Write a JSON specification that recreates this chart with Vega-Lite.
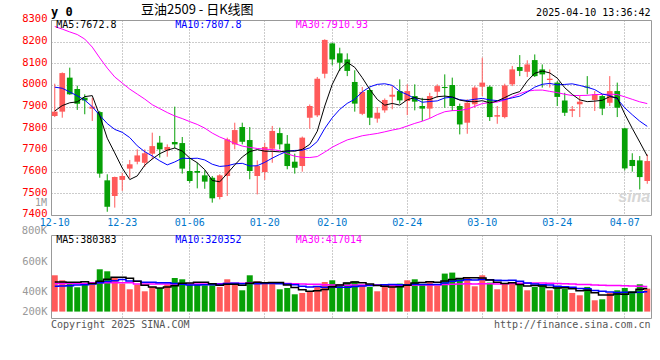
{
"$schema": "https://vega.github.io/schema/vega-lite/v6.json",
"background": "white",
"padding": {"left": 21, "top": 3, "right": 8, "bottom": 5},
"bounds": "flush",
"spacing": 20,
"config": {"view": {"stroke": "#999999", "strokeWidth": 1}, "font": "DejaVu Sans Mono"},
"datasets": {"k": [
{"d":"12-10","o":7857,"h":8006,"l":7852,"c":7877,"v":617000,"m5":7880,"m10":7990,"m30":8270,"vm5":505000,"vm10":430000,"vm30":478000},
{"d":"12-11","o":7877,"h":8058,"l":7849,"c":8055,"v":532000,"m5":7905,"m10":7985,"m30":8258,"vm5":505000,"vm10":435000,"vm30":478000},
{"d":"12-12","o":8034,"h":8080,"l":7955,"c":7957,"v":503000,"m5":7918,"m10":7968,"m30":8245,"vm5":500000,"vm10":440000,"vm30":478000},
{"d":"12-13","o":7981,"h":7997,"l":7885,"c":7914,"v":413000,"m5":7922,"m10":7950,"m30":8233,"vm5":500000,"vm10":450000,"vm30":478000},
{"d":"12-16","o":7941,"h":7957,"l":7865,"c":7929,"v":476000,"m5":7946.4,"m10":7930,"m30":8212,"vm5":508000,"vm10":455000,"vm30":478000},
{"d":"12-17","o":7891,"h":7941,"l":7834,"c":7900,"v":459000,"m5":7951,"m10":7900,"m30":8175,"vm5":477000,"vm10":470000,"vm30":490000},
{"d":"12-18","o":7875,"h":7880,"l":7572,"c":7591,"v":719000,"m5":7858.2,"m10":7860,"m30":8125,"vm5":514000,"vm10":490000,"vm30":490000},
{"d":"12-19","o":7560,"h":7588,"l":7415,"c":7438,"v":685000,"m5":7754.4,"m10":7822,"m30":8078,"vm5":550000,"vm10":510000,"vm30":490000},
{"d":"12-20","o":7488,"h":7577,"l":7434,"c":7575,"v":578000,"m5":7686.6,"m10":7795,"m30":8037,"vm5":583000,"vm10":525000,"vm30":490000},
{"d":"12-23","o":7562,"h":7595,"l":7511,"c":7580,"v":476000,"m5":7616.8,"m10":7781.6,"m30":8009,"vm5":583000,"vm10":546000,"vm30":490000},
{"d":"12-24","o":7614,"h":7654,"l":7572,"c":7634,"v":379000,"m5":7563.6,"m10":7757.3,"m30":7981,"vm5":567000,"vm10":522000,"vm30":490000},
{"d":"12-25","o":7646,"h":7703,"l":7634,"c":7675,"v":459000,"m5":7580.4,"m10":7719.3,"m30":7958,"vm5":515000,"vm10":515000,"vm30":470000},
{"d":"12-26","o":7641,"h":7703,"l":7622,"c":7685,"v":345000,"m5":7629.8,"m10":7692.1,"m30":7935,"vm5":447000,"vm10":499000,"vm30":470000},
{"d":"12-27","o":7683,"h":7780,"l":7657,"c":7718,"v":419000,"m5":7658.4,"m10":7672.5,"m30":7909,"vm5":416000,"vm10":500000,"vm30":470000},
{"d":"12-30","o":7734,"h":7765,"l":7665,"c":7703,"v":401000,"m5":7683,"m10":7649.9,"m30":7891,"vm5":401000,"vm10":492000,"vm30":470000},
{"d":"12-31","o":7698,"h":7726,"l":7669,"c":7714,"v":459000,"m5":7699,"m10":7631.3,"m30":7873,"vm5":417000,"vm10":492000,"vm30":470000},
{"d":"01-02","o":7737,"h":7900,"l":7708,"c":7726,"v":571000,"m5":7709.2,"m10":7644.8,"m30":7857,"vm5":439000,"vm10":477000,"vm30":470000},
{"d":"01-03","o":7732,"h":7760,"l":7591,"c":7614,"v":549000,"m5":7695,"m10":7662.4,"m30":7845,"vm5":480000,"vm10":464000,"vm30":470000},
{"d":"01-06","o":7603,"h":7665,"l":7549,"c":7557,"v":459000,"m5":7662.8,"m10":7660.6,"m30":7831,"vm5":488000,"vm10":452000,"vm30":470000},
{"d":"01-07","o":7603,"h":7641,"l":7523,"c":7595,"v":459000,"m5":7641.2,"m10":7662.1,"m30":7818,"vm5":499000,"vm10":450000,"vm30":470000},
{"d":"01-08","o":7583,"h":7606,"l":7521,"c":7554,"v":447000,"m5":7609.2,"m10":7654.1,"m30":7801,"vm5":497000,"vm10":457000,"vm30":470000},
{"d":"01-09","o":7572,"h":7580,"l":7457,"c":7477,"v":447000,"m5":7559.4,"m10":7634.3,"m30":7778,"vm5":472000,"vm10":456000,"vm30":475000},
{"d":"01-10","o":7483,"h":7588,"l":7472,"c":7583,"v":419000,"m5":7553.2,"m10":7624.1,"m30":7760,"vm5":446000,"vm10":463000,"vm30":475000},
{"d":"01-13","o":7580,"h":7757,"l":7488,"c":7749,"v":549000,"m5":7591.6,"m10":7627.2,"m30":7746,"vm5":464000,"vm10":476000,"vm30":478000},
{"d":"01-14","o":7726,"h":7826,"l":7703,"c":7792,"v":459000,"m5":7631,"m10":7636.1,"m30":7730,"vm5":464000,"vm10":482000,"vm30":480000},
{"d":"01-15","o":7806,"h":7826,"l":7726,"c":7738,"v":362000,"m5":7667.8,"m10":7638.5,"m30":7718,"vm5":447000,"vm10":472000,"vm30":482000},
{"d":"01-16","o":7746,"h":7806,"l":7565,"c":7603,"v":617000,"m5":7693,"m10":7626.2,"m30":7712,"vm5":481000,"vm10":477000,"vm30":485000},
{"d":"01-17","o":7580,"h":7652,"l":7495,"c":7626,"v":515000,"m5":7701.6,"m10":7627.4,"m30":7707,"vm5":500000,"vm10":473000,"vm30":487000},
{"d":"01-20","o":7598,"h":7734,"l":7562,"c":7714,"v":493000,"m5":7694.6,"m10":7643.1,"m30":7704,"vm5":489000,"vm10":477000,"vm30":489000},
{"d":"01-21","o":7706,"h":7811,"l":7641,"c":7788,"v":476000,"m5":7693.8,"m10":7662.4,"m30":7702,"vm5":493000,"vm10":478000,"vm30":491000},
{"d":"01-22","o":7778,"h":7803,"l":7703,"c":7726,"v":379000,"m5":7691.4,"m10":7679.6,"m30":7697,"vm5":496000,"vm10":472000,"vm30":483000},
{"d":"01-23","o":7729,"h":7769,"l":7611,"c":7626,"v":401000,"m5":7696,"m10":7694.5,"m30":7682.7,"vm5":453000,"vm10":467000,"vm30":479000},
{"d":"01-24","o":7646,"h":7683,"l":7591,"c":7618,"v":294000,"m5":7694.4,"m10":7698,"m30":7671.4,"vm5":409000,"vm10":455000,"vm30":472000},
{"d":"01-27","o":7626,"h":7762,"l":7600,"c":7757,"v":316000,"m5":7703,"m10":7698.8,"m30":7666.2,"vm5":373000,"vm10":431000,"vm30":469000},
{"d":"02-05","o":7849,"h":7910,"l":7798,"c":7903,"v":333000,"m5":7726,"m10":7709.9,"m30":7665.3,"vm5":345000,"vm10":419000,"vm30":464000},
{"d":"02-06","o":7860,"h":8037,"l":7852,"c":8029,"v":430000,"m5":7786.6,"m10":7739,"m30":7669.6,"vm5":355000,"vm10":425000,"vm30":463000},
{"d":"02-07","o":8052,"h":8211,"l":8031,"c":8208,"v":503000,"m5":7903,"m10":7799.5,"m30":7690.2,"vm5":375000,"vm10":414000,"vm30":456000},
{"d":"02-10","o":8192,"h":8195,"l":8091,"c":8118,"v":532000,"m5":8003,"m10":7848.7,"m30":7712.8,"vm5":423000,"vm10":416000,"vm30":451000},
{"d":"02-11","o":8146,"h":8172,"l":8065,"c":8103,"v":464000,"m5":8072.2,"m10":7887.6,"m30":7730.4,"vm5":452000,"vm10":413000,"vm30":447000},
{"d":"02-12","o":8118,"h":8146,"l":8041,"c":8065,"v":493000,"m5":8104.6,"m10":7915.3,"m30":7746.6,"vm5":484000,"vm10":415000,"vm30":448000},
{"d":"02-13","o":8014,"h":8068,"l":7877,"c":7914,"v":515000,"m5":8081.6,"m10":7934.1,"m30":7755.9,"vm5":501000,"vm10":428000,"vm30":452000},
{"d":"02-14","o":7867,"h":7991,"l":7861,"c":7968,"v":447000,"m5":8033.6,"m10":7968.3,"m30":7765.7,"vm5":490000,"vm10":433000,"vm30":452000},
{"d":"02-17","o":7977,"h":7988,"l":7815,"c":7849,"v":419000,"m5":7979.8,"m10":7991.4,"m30":7771.2,"vm5":468000,"vm10":445000,"vm30":454000},
{"d":"02-18","o":7845,"h":7898,"l":7826,"c":7872,"v":345000,"m5":7933.6,"m10":8002.9,"m30":7776.3,"vm5":444000,"vm10":448000,"vm30":452000},
{"d":"02-19","o":7883,"h":7938,"l":7872,"c":7931,"v":419000,"m5":7906.8,"m10":8005.7,"m30":7783.9,"vm5":429000,"vm10":457000,"vm30":452000},
{"d":"02-20","o":7946,"h":7995,"l":7888,"c":7955,"v":459000,"m5":7915,"m10":7998.3,"m30":7791.9,"vm5":418000,"vm10":460000,"vm30":452000},
{"d":"02-21","o":7972,"h":8026,"l":7914,"c":7929,"v":476000,"m5":7907.2,"m10":7970.4,"m30":7798.7,"vm5":424000,"vm10":457000,"vm30":449000},
{"d":"02-24","o":7926,"h":8003,"l":7861,"c":7972,"v":532000,"m5":7931.8,"m10":7955.8,"m30":7810.6,"vm5":446000,"vm10":457000,"vm30":449000},
{"d":"02-25","o":7949,"h":8003,"l":7883,"c":7923,"v":549000,"m5":7942,"m10":7937.8,"m30":7822.8,"vm5":487000,"vm10":465000,"vm30":452000},
{"d":"02-26","o":7903,"h":7941,"l":7834,"c":7891,"v":459000,"m5":7934,"m10":7920.4,"m30":7832.7,"vm5":495000,"vm10":462000,"vm30":452000},
{"d":"02-27","o":7891,"h":7964,"l":7846,"c":7949,"v":515000,"m5":7932.8,"m10":7923.9,"m30":7845.9,"vm5":506000,"vm10":462000,"vm30":454000},
{"d":"02-28","o":7969,"h":8003,"l":7941,"c":7995,"v":436000,"m5":7946,"m10":7926.6,"m30":7863.1,"vm5":498000,"vm10":461000,"vm30":454000},
{"d":"03-03","o":7991,"h":8049,"l":7895,"c":7986,"v":646000,"m5":7948.8,"m10":7940.3,"m30":7876.6,"vm5":521000,"vm10":484000,"vm30":461000},
{"d":"03-04","o":8000,"h":8034,"l":7880,"c":7903,"v":663000,"m5":7944.8,"m10":7943.4,"m30":7881.7,"vm5":544000,"vm10":515000,"vm30":465000},
{"d":"03-05","o":7903,"h":7914,"l":7772,"c":7818,"v":561000,"m5":7930.2,"m10":7932.1,"m30":7882.6,"vm5":564000,"vm10":530000,"vm30":468000},
{"d":"03-06","o":7826,"h":7934,"l":7775,"c":7918,"v":577000,"m5":7924,"m10":7928.4,"m30":7888.6,"vm5":577000,"vm10":541000,"vm30":475000},
{"d":"03-07","o":7911,"h":7995,"l":7895,"c":7988,"v":430000,"m5":7922.6,"m10":7934.3,"m30":7901.4,"vm5":575000,"vm10":537000,"vm30":469000},
{"d":"03-10","o":7992,"h":8126,"l":7949,"c":8011,"v":617000,"m5":7927.6,"m10":7938.2,"m30":7914.2,"vm5":570000,"vm10":545000,"vm30":473000},
{"d":"03-11","o":7992,"h":7998,"l":7834,"c":7852,"v":493000,"m5":7917.4,"m10":7931.1,"m30":7918.8,"vm5":536000,"vm10":540000,"vm30":473000},
{"d":"03-12","o":7854,"h":7903,"l":7821,"c":7861,"v":379000,"m5":7926,"m10":7928.1,"m30":7921.3,"vm5":499000,"vm10":532000,"vm30":469000},
{"d":"03-13","o":7852,"h":8006,"l":7846,"c":7998,"v":476000,"m5":7942,"m10":7933,"m30":7930.3,"vm5":479000,"vm10":528000,"vm30":473000},
{"d":"03-14","o":8003,"h":8088,"l":7995,"c":8072,"v":493000,"m5":7958.8,"m10":7940.7,"m30":7945.2,"vm5":492000,"vm10":534000,"vm30":476000},
{"d":"03-17","o":8083,"h":8138,"l":8041,"c":8065,"v":459000,"m5":7969.6,"m10":7948.6,"m30":7960.1,"vm5":460000,"vm10":515000,"vm30":481000},
{"d":"03-18","o":8061,"h":8114,"l":8037,"c":8095,"v":362000,"m5":8018.2,"m10":7967.8,"m30":7971.4,"vm5":434000,"vm10":485000,"vm30":483000},
{"d":"03-19","o":8115,"h":8141,"l":8037,"c":8041,"v":419000,"m5":8054.2,"m10":7990.1,"m30":7976,"vm5":442000,"vm10":471000,"vm30":486000},
{"d":"03-20","o":8072,"h":8095,"l":7988,"c":8049,"v":447000,"m5":8064.4,"m10":8003.2,"m30":7976.6,"vm5":436000,"vm10":458000,"vm30":486000},
{"d":"03-21","o":8023,"h":8072,"l":7988,"c":8029,"v":362000,"m5":8055.8,"m10":8007.3,"m30":7970.7,"vm5":410000,"vm10":451000,"vm30":481000},
{"d":"03-24","o":8011,"h":8018,"l":7903,"c":7945,"v":419000,"m5":8031.8,"m10":8000.7,"m30":7964.9,"vm5":402000,"vm10":431000,"vm30":478000},
{"d":"03-25","o":7929,"h":7964,"l":7857,"c":7872,"v":390000,"m5":7987.2,"m10":8002.7,"m30":7957.2,"vm5":407000,"vm10":421000,"vm30":475000},
{"d":"03-26","o":7881,"h":7903,"l":7852,"c":7888,"v":316000,"m5":7956.6,"m10":8005.4,"m30":7951.3,"vm5":387000,"vm10":414000,"vm30":469000},
{"d":"03-27","o":7911,"h":7949,"l":7852,"c":7923,"v":277000,"m5":7931.4,"m10":7997.9,"m30":7951.6,"vm5":353000,"vm10":394000,"vm30":461000},
{"d":"03-28","o":7992,"h":8041,"l":7957,"c":7988,"v":419000,"m5":7923.2,"m10":7989.5,"m30":7952.3,"vm5":364000,"vm10":387000,"vm30":460000},
{"d":"03-31","o":7931,"h":7972,"l":7880,"c":7957,"v":192000,"m5":7925.6,"m10":7978.7,"m30":7955.9,"vm5":319000,"vm10":360000,"vm30":453000},
{"d":"04-01","o":7949,"h":7957,"l":7861,"c":7891,"v":209000,"m5":7929.4,"m10":7958.3,"m30":7956.5,"vm5":283000,"vm10":345000,"vm30":448000},
{"d":"04-02","o":7918,"h":8041,"l":7903,"c":7972,"v":316000,"m5":7946.2,"m10":7951.4,"m30":7957.9,"vm5":283000,"vm10":335000,"vm30":445000},
{"d":"04-03","o":7972,"h":8011,"l":7852,"c":7895,"v":362000,"m5":7940.6,"m10":7936,"m30":7955.9,"vm5":300000,"vm10":326000,"vm30":442000},
{"d":"04-07","o":7800,"h":7803,"l":7606,"c":7615,"v":401000,"m5":7866,"m10":7894.6,"m30":7945.4,"vm5":296000,"vm10":330000,"vm30":439000},
{"d":"04-08","o":7654,"h":7685,"l":7600,"c":7626,"v":345000,"m5":7799.8,"m10":7862.7,"m30":7933.9,"vm5":327000,"vm10":323000,"vm30":433000},
{"d":"04-09","o":7652,"h":7672,"l":7518,"c":7575,"v":464000,"m5":7736.6,"m10":7833,"m30":7922.3,"vm5":378000,"vm10":330000,"vm30":430000},
{"d":"04-10","o":7557,"h":7680,"l":7544,"c":7649,"v":390000,"m5":7672,"m10":7809.1,"m30":7914.2,"vm5":392000,"vm10":338000,"vm30":428000}
]},
"vconcat": [
{
"width": 600, "height": 195,
"data": {"name": "k"},
"encoding": {"x": {"field": "d", "type": "ordinal",
  "scale": {"domain": ["12-10","12-11","12-12","12-13","12-16","12-17","12-18","12-19","12-20","12-23","12-24","12-25","12-26","12-27","12-30","12-31","01-02","01-03","01-06","01-07","01-08","01-09","01-10","01-13","01-14","01-15","01-16","01-17","01-20","01-21","01-22","01-23","01-24","01-27","02-05","02-06","02-07","02-10","02-11","02-12","02-13","02-14","02-17","02-18","02-19","02-20","02-21","02-24","02-25","02-26","02-27","02-28","03-03","03-04","03-05","03-06","03-07","03-10","03-11","03-12","03-13","03-14","03-17","03-18","03-19","03-20","03-21","03-24","03-25","03-26","03-27","03-28","03-31","04-01","04-02","04-03","04-07","04-08","04-09","04-10"], "paddingInner": 0, "paddingOuter": 0},
  "axis": {"values": ["12-10","12-23","01-06","01-20","02-10","02-24","03-10","03-24","04-07"], "title": null, "labelColor": "#0077cc", "labelFont": "DejaVu Sans Mono", "labelFontSize": 10, "labelAngle": 0, "labelPadding": 2, "ticks": false, "domain": false, "grid": true, "gridColor": "#999999", "gridDash": [1, 2], "gridOpacity": {"condition": {"test": "datum.value == '12-10'", "value": 0}, "value": 1}}}},
"layer": [
 {"mark": {"type": "rule", "strokeWidth": 1},
  "encoding": {"y": {"field": "l", "type": "quantitative", "scale": {"domain": [7400, 8300], "nice": false, "zero": false},
     "axis": {"values": [7400,7500,7600,7700,7800,7900,8000,8100,8200,8300], "tickCount": 10, "format": "d", "labelOverlap": false, "title": null, "labelColor": "#ff0000", "labelFont": "DejaVu Sans Mono", "labelFontSize": 10.5, "labelOffset": -1.2, "ticks": false, "domain": false, "labelPadding": 4, "grid": true, "gridColor": "#999999", "gridDash": [1, 2]}},
   "y2": {"field": "h"},
   "color": {"condition": {"test": "datum.c >= datum.o", "value": "#ff5a5a"}, "value": "#06a006"}}},
 {"mark": {"type": "bar", "width": {"band": 0.76}},
  "encoding": {"y": {"field": "o", "type": "quantitative",
     "axis": {"values": [7400,7500,7600,7700,7800,7900,8000,8100,8200,8300], "tickCount": 10, "format": "d", "labelOverlap": false, "title": null, "labelColor": "#ff0000", "labelFont": "DejaVu Sans Mono", "labelFontSize": 10.5, "labelOffset": -1.2, "ticks": false, "domain": false, "labelPadding": 4, "grid": true, "gridColor": "#999999", "gridDash": [1, 2]}},
   "y2": {"field": "c"},
   "color": {"condition": {"test": "datum.c >= datum.o", "value": "#ff5a5a"}, "value": "#06a006"}}},
 {"mark": {"type": "line", "color": "#ff00ff", "strokeWidth": 1, "clip": true}, "encoding": {"y": {"field": "m30", "type": "quantitative"}}},
 {"mark": {"type": "line", "color": "#0000ff", "strokeWidth": 1, "clip": true}, "encoding": {"y": {"field": "m10", "type": "quantitative"}}},
 {"mark": {"type": "line", "color": "#000000", "strokeWidth": 1, "clip": true}, "encoding": {"y": {"field": "m5", "type": "quantitative"}}},
 {"data": {"values": [{}]}, "mark": {"type": "text", "text": "sina", "align": "right", "baseline": "middle", "font": "Liberation Sans", "fontWeight": "bold", "fontStyle": "italic", "fontSize": 16, "color": "#d6d6d6", "dx": 3},
  "encoding": {"x": {"datum": "04-10", "type": "ordinal"}, "y": {"datum": 7483, "type": "quantitative"}}},
 {"data": {"values": [{}]}, "mark": {"type": "text", "text": "MA5:7672.8", "align": "left", "baseline": "middle", "font": "DejaVu Sans Mono", "fontSize": 10, "color": "#000000", "dx": 1.5},
  "encoding": {"x": {"datum": "12-10", "type": "ordinal"}, "y": {"datum": 8277, "type": "quantitative"}}},
 {"data": {"values": [{}]}, "mark": {"type": "text", "text": "MA10:7807.8", "align": "left", "baseline": "middle", "font": "DejaVu Sans Mono", "fontSize": 10, "color": "#0000ff", "dx": 0.5},
  "encoding": {"x": {"datum": "01-02", "type": "ordinal"}, "y": {"datum": 8277, "type": "quantitative"}}},
 {"data": {"values": [{}]}, "mark": {"type": "text", "text": "MA30:7910.93", "align": "left", "baseline": "middle", "font": "DejaVu Sans Mono", "fontSize": 10, "color": "#ff00ff", "dx": 1},
  "encoding": {"x": {"datum": "01-24", "type": "ordinal"}, "y": {"datum": 8277, "type": "quantitative"}}},
 {"data": {"values": [{}]}, "mark": {"type": "text", "text": "y 0", "align": "left", "baseline": "middle", "font": "DejaVu Sans Mono", "fontWeight": "bold", "fontSize": 12, "color": "#000000", "dx": -3.75},
  "encoding": {"x": {"datum": "12-10", "type": "ordinal"}, "y": {"datum": 8337, "type": "quantitative"}}},
 {"data": {"values": [{}]}, "mark": {"type": "text", "text": "豆油2509 - 日K线图", "align": "left", "baseline": "middle", "font": "Noto Sans CJK SC", "fontSize": 13, "color": "#000000", "dx": 3.75},
  "encoding": {"x": {"datum": "12-25", "type": "ordinal"}, "y": {"datum": 8344, "type": "quantitative"}}},
 {"data": {"values": [{}]}, "mark": {"type": "text", "text": "2025-04-10 13:36:42", "align": "right", "baseline": "middle", "font": "DejaVu Sans Mono", "fontSize": 10, "color": "#000000", "dx": 3.25},
  "encoding": {"x": {"datum": "04-10", "type": "ordinal"}, "y": {"datum": 8332, "type": "quantitative"}}}
]
},
{
"width": 600, "height": 83,
"data": {"name": "k"},
"encoding": {"x": {"field": "d", "type": "ordinal",
  "scale": {"domain": ["12-10","12-11","12-12","12-13","12-16","12-17","12-18","12-19","12-20","12-23","12-24","12-25","12-26","12-27","12-30","12-31","01-02","01-03","01-06","01-07","01-08","01-09","01-10","01-13","01-14","01-15","01-16","01-17","01-20","01-21","01-22","01-23","01-24","01-27","02-05","02-06","02-07","02-10","02-11","02-12","02-13","02-14","02-17","02-18","02-19","02-20","02-21","02-24","02-25","02-26","02-27","02-28","03-03","03-04","03-05","03-06","03-07","03-10","03-11","03-12","03-13","03-14","03-17","03-18","03-19","03-20","03-21","03-24","03-25","03-26","03-27","03-28","03-31","04-01","04-02","04-03","04-07","04-08","04-09","04-10"], "paddingInner": 0, "paddingOuter": 0},
  "axis": {"values": ["12-10","12-23","01-06","01-20","02-10","02-24","03-10","03-24","04-07"], "title": null, "labels": false, "ticks": false, "domain": false, "grid": true, "gridColor": "#999999", "gridDash": [1, 2], "gridOpacity": {"condition": {"test": "datum.value == '12-10'", "value": 0}, "value": 1}}}},
"layer": [
 {"mark": {"type": "bar", "width": {"band": 0.8}},
  "encoding": {"y": {"field": "v", "type": "quantitative", "scale": {"domain": [-109000, 1302000], "nice": false, "zero": false},
     "axis": {"values": [3200, 243750, 343200, 596500, 853200, 949250], "labelExpr": "datum.value == 3200 ? '200K' : datum.value == 343200 ? '400K' : datum.value == 853200 ? '600K' : ''", "title": null, "labelColor": "#999999", "labelFont": "DejaVu Sans Mono", "labelFontSize": 10.5, "ticks": false, "domain": false, "labelPadding": 4, "labelOverlap": false, "grid": true, "gridColor": "#999999", "gridDash": [1, 2], "gridOpacity": {"condition": {"test": "datum.value == 243750 || datum.value == 596500 || datum.value == 949250", "value": 1}, "value": 0}}},
   "y2": {"datum": 0},
   "color": {"condition": {"test": "datum.c >= datum.o", "value": "#ff5a5a"}, "value": "#06a006"}}},
 {"mark": {"type": "line", "interpolate": "step", "color": "#ff00ff", "strokeWidth": 1.5}, "encoding": {"y": {"field": "vm30", "type": "quantitative"}}},
 {"mark": {"type": "line", "interpolate": "step", "color": "#0000ff", "strokeWidth": 1.5}, "encoding": {"y": {"field": "vm10", "type": "quantitative"}}},
 {"mark": {"type": "line", "interpolate": "step", "color": "#000000", "strokeWidth": 1.5}, "encoding": {"y": {"field": "vm5", "type": "quantitative"}}},
 {"data": {"values": [{}]}, "mark": {"type": "text", "text": "MA5:380383", "align": "left", "baseline": "middle", "font": "DejaVu Sans Mono", "fontSize": 10, "color": "#000000", "dx": 1.5},
  "encoding": {"x": {"datum": "12-10", "type": "ordinal"}, "y": {"datum": 1222100, "type": "quantitative"}}},
 {"data": {"values": [{}]}, "mark": {"type": "text", "text": "MA10:320352", "align": "left", "baseline": "middle", "font": "DejaVu Sans Mono", "fontSize": 10, "color": "#0000ff", "dx": 0.5},
  "encoding": {"x": {"datum": "01-02", "type": "ordinal"}, "y": {"datum": 1222100, "type": "quantitative"}}},
 {"data": {"values": [{}]}, "mark": {"type": "text", "text": "MA30:417014", "align": "left", "baseline": "middle", "font": "DejaVu Sans Mono", "fontSize": 10, "color": "#ff00ff", "dx": 1},
  "encoding": {"x": {"datum": "01-24", "type": "ordinal"}, "y": {"datum": 1222100, "type": "quantitative"}}},
 {"data": {"values": [{}]}, "mark": {"type": "text", "text": "800K", "align": "right", "baseline": "middle", "font": "DejaVu Sans Mono", "fontSize": 10.5, "color": "#999999", "dx": -7.75},
  "encoding": {"x": {"datum": "12-10", "type": "ordinal"}, "y": {"datum": 1366600, "type": "quantitative"}}},
 {"data": {"values": [{}]}, "mark": {"type": "text", "text": "1M", "align": "right", "baseline": "middle", "font": "DejaVu Sans Mono", "fontSize": 10, "color": "#999999", "dx": -7.75},
  "encoding": {"x": {"datum": "12-10", "type": "ordinal"}, "y": {"datum": 1842600, "type": "quantitative"}}},
 {"data": {"values": [{}]}, "mark": {"type": "text", "text": "Copyright 2025 SINA.COM", "align": "left", "baseline": "middle", "font": "DejaVu Sans Mono", "fontSize": 10, "color": "#555555", "dx": -3.75},
  "encoding": {"x": {"datum": "12-10", "type": "ordinal"}, "y": {"datum": -222900, "type": "quantitative"}}},
 {"data": {"values": [{}]}, "mark": {"type": "text", "text": "http://finance.sina.com.cn", "align": "right", "baseline": "middle", "font": "DejaVu Sans Mono", "fontSize": 10, "color": "#555555", "dx": 3.25},
  "encoding": {"x": {"datum": "04-10", "type": "ordinal"}, "y": {"datum": -222900, "type": "quantitative"}}}
]
}
]
}
